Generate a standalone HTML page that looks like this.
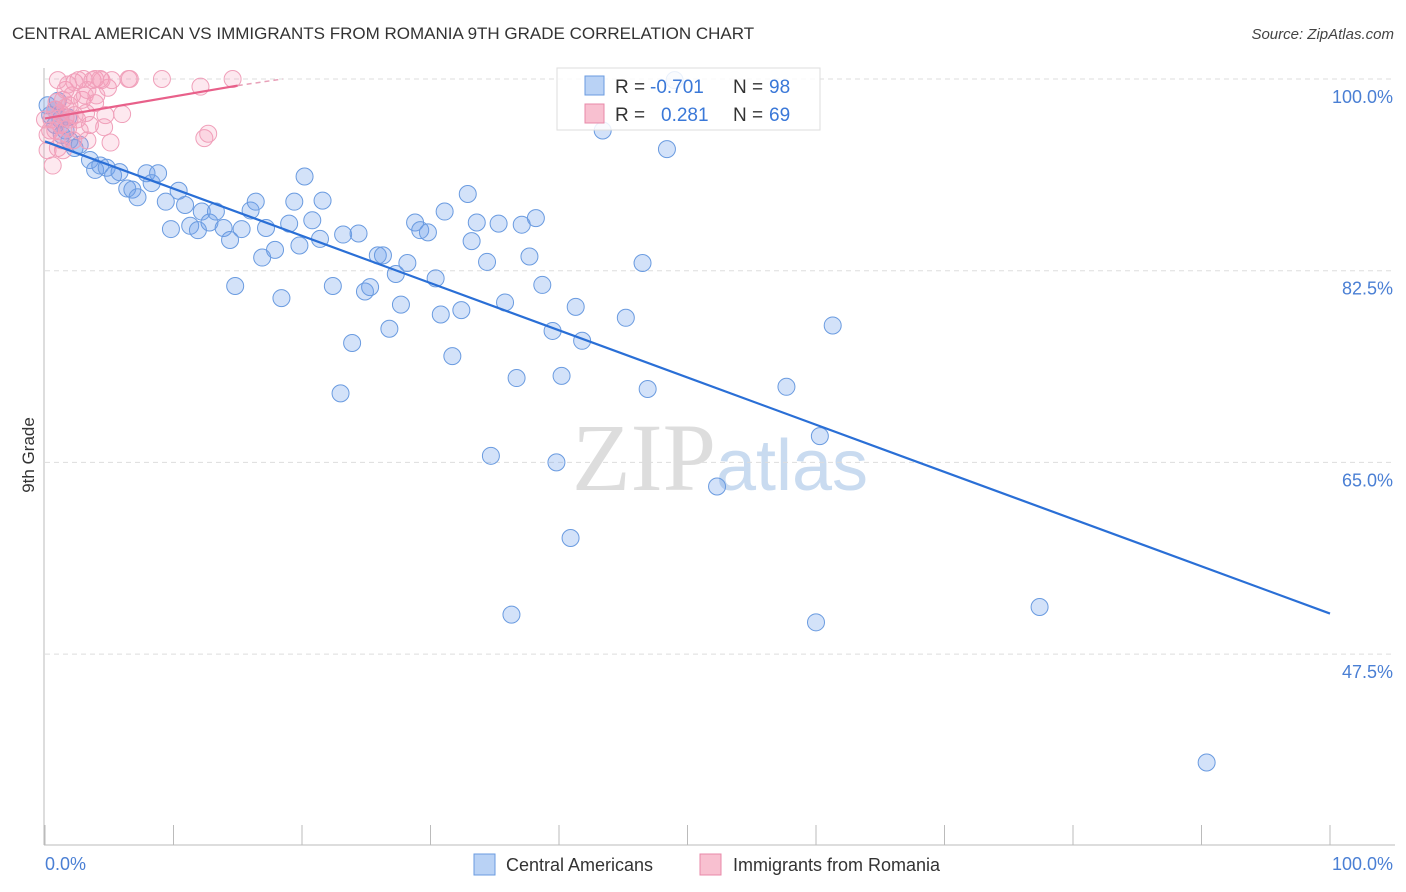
<!DOCTYPE html>
<html><head><meta charset="utf-8"><style>
body{margin:0;background:#fff;font-family:"Liberation Sans",sans-serif}
svg{display:block}
</style></head><body>
<svg id="chart" width="1406" height="892" xmlns="http://www.w3.org/2000/svg" font-family="Liberation Sans, sans-serif">
<text x="12" y="39" font-size="17" fill="#333">CENTRAL AMERICAN VS IMMIGRANTS FROM ROMANIA 9TH GRADE CORRELATION CHART</text>
<text x="1394" y="39" font-size="15" fill="#444" text-anchor="end" font-style="italic">Source: ZipAtlas.com</text>
<text x="720" y="490" font-size="96" fill="#ddd" text-anchor="middle" font-family="Liberation Serif, serif">ZIP<tspan fill="#c9dbf0" font-family="Liberation Sans, sans-serif" font-size="72">atlas</tspan></text>
<g id="grid"></g><g id="axes"></g><g id="pts"></g><g id="lines"></g>
<text transform="translate(34,455) rotate(-90)" font-size="17" fill="#333" text-anchor="middle">9th Grade</text>
<text x="45" y="870" font-size="18" fill="#4a7fd4">0.0%</text>
<text x="1393" y="870" font-size="18" fill="#4a7fd4" text-anchor="end">100.0%</text>
<g>
<rect x="557" y="68" width="263" height="62" fill="rgba(255,255,255,0.85)" stroke="#ddd"/>
<rect x="585" y="76" width="19" height="19" fill="#b9d2f5" stroke="#6a9be0"/>
<rect x="585" y="104" width="19" height="19" fill="#f8c0d0" stroke="#e888a8"/>
<text x="615" y="93" font-size="19" fill="#333">R =</text>
<text x="650" y="93" font-size="19" fill="#3a78d8">-0.701</text>
<text x="733" y="93" font-size="19" fill="#333">N =</text>
<text x="769" y="93" font-size="19" fill="#3a78d8">98</text>
<text x="615" y="121" font-size="19" fill="#333">R =</text>
<text x="661" y="121" font-size="19" fill="#3a78d8">0.281</text>
<text x="733" y="121" font-size="19" fill="#333">N =</text>
<text x="769" y="121" font-size="19" fill="#3a78d8">69</text>
</g>
<g>
<rect x="474" y="854" width="21" height="21" fill="#b9d2f5" stroke="#6a9be0"/>
<text x="506" y="871" font-size="18" fill="#333">Central Americans</text>
<rect x="700" y="854" width="21" height="21" fill="#f8c0d0" stroke="#e888a8"/>
<text x="733" y="871" font-size="18" fill="#333">Immigrants from Romania</text>
</g>
</svg>
<script>
const yTicks=[100,82.5,65,47.5];
const yTickLabels=["100.0%","82.5%","65.0%","47.5%"];
const xTicks=[0,10,20,30,40,50,60,70,80,90,100];
const blueX=[0.2,0.8,1.2,1.6,1.9,2.3,2.7,3.5,3.9,4.3,4.8,5.3,5.8,6.4,6.8,7.2,7.9,8.3,8.8,9.4,9.8,10.4,10.9,11.3,11.9,12.2,12.8,13.3,13.9,14.4,14.8,15.3,16.0,16.4,16.9,17.2,17.9,18.4,19.0,19.4,19.8,20.2,20.8,21.4,21.6,22.4,23.2,23.0,23.9,24.4,24.9,25.3,25.9,26.3,26.8,27.3,27.7,28.2,28.8,29.2,29.8,30.4,30.8,31.1,31.7,32.4,32.9,33.2,33.6,34.4,34.7,35.3,35.8,36.3,36.7,37.1,37.7,38.2,38.7,39.5,39.8,40.2,40.9,41.3,41.8,43.4,45.2,46.5,46.9,48.4,49.0,52.3,57.7,60.0,60.3,61.3,77.4,90.4,0.4,0.8,1.3,1.0,1.8];
const blueY=[97.6,97.2,96.3,95.3,94.4,93.7,94.0,92.6,91.7,92.1,91.9,91.2,91.5,90.0,89.9,89.2,91.4,90.5,91.4,88.8,86.3,89.8,88.5,86.6,86.2,87.9,86.9,87.9,86.4,85.3,81.1,86.3,88.0,88.8,83.7,86.4,84.4,80.0,86.8,88.8,84.8,91.1,87.1,85.4,88.9,81.1,85.8,71.3,75.9,85.9,80.6,81.0,83.9,83.9,77.2,82.2,79.4,83.2,86.9,86.2,86.0,81.8,78.5,87.9,74.7,78.9,89.5,85.2,86.9,83.3,65.6,86.8,79.6,51.1,72.7,86.7,83.8,87.3,81.2,77.0,65.0,72.9,58.1,79.2,76.1,95.3,78.2,83.2,71.7,93.6,99.9,62.8,71.9,50.4,67.4,77.5,51.8,37.6,96.7,95.8,94.9,98.0,96.5];
const pinkX=[0.2,0.4,0.5,0.8,0.9,1.2,1.3,1.4,1.6,1.6,1.8,1.9,2.1,2.2,2.3,2.5,2.6,2.7,2.9,3.0,3.2,3.3,3.5,3.7,3.9,4.0,4.3,4.4,4.6,4.7,4.9,5.1,5.2,6.0,6.5,6.6,9.1,12.1,12.4,12.7,14.6,0.6,1.0,0.2,0,0.8,1.2,1.6,1.9,2.3,1.0,1.8,3.1,3.9,3.3,1.4];
const pinkY=[93.5,95.3,96.3,97.2,97.9,95.8,94.4,98.1,99.0,96.5,95.5,97.6,98.5,94.4,99.7,96.3,99.9,95.3,98.1,100,96.9,99.0,95.8,99.9,100,98.5,100,99.9,95.6,96.7,99.2,94.2,99.9,96.8,100,100,100,99.3,94.6,95.0,100,92.1,93.7,94.9,96.3,95.3,96.9,97.4,96.3,96.7,99.9,99.5,98.5,97.8,94.4,93.5];
const blueTrend=[[0,94.3],[100,51.2]];
const pinkTrend=[[0,96.4],[15,99.4]];
const pinkDash=[[15,99.4],[18.5,100]];
const NS="http://www.w3.org/2000/svg";
const xs=v=>45+v*12.85;
const ys=v=>79+(100-v)*10.954;
function mk(tag,attrs,parent){const e=document.createElementNS(NS,tag);for(const k in attrs)e.setAttribute(k,attrs[k]);const p=document.getElementById(parent);p.appendChild(e);return e;}
yTicks.forEach((t,i)=>{
 const l=mk('line',{x1:45,x2:1395,y1:ys(t),y2:ys(t),stroke:'#ddd','stroke-dasharray':'5,4'},'grid');
 
 
 const tx=mk('text',{x:1393,y:ys(t)+24,'font-size':18,fill:'#4a7fd4','text-anchor':'end'},'grid');
 tx.textContent=yTickLabels[i];
 
 
});
const ax=mk('line',{x1:44,x2:44,y1:68,y2:845,stroke:'#bbb'},'axes');


const bx=mk('line',{x1:44,x2:1395,y1:845,y2:845,stroke:'#bbb'},'axes');


xTicks.forEach(t=>{
 const l=mk('line',{x1:xs(t),x2:xs(t),y1:825,y2:845,stroke:'#bbb'},'axes');
 
 
});
blueX.forEach((x,i)=>{
 const c=mk('circle',{cx:xs(x),cy:ys(blueY[i]),r:8.5,fill:'rgba(110,160,235,0.3)',stroke:'#6a9be0','stroke-width':1},'pts');
 
 
});
pinkX.forEach((x,i)=>{
 const c=mk('circle',{cx:xs(x),cy:ys(pinkY[i]),r:8.5,fill:'rgba(245,150,180,0.22)',stroke:'#f0a0ba','stroke-width':1},'pts');
 
 
});
const bl=mk('line',{x1:xs(blueTrend[0][0]),y1:ys(blueTrend[0][1]),x2:xs(blueTrend[1][0]),y2:ys(blueTrend[1][1]),stroke:'#2a6fd6','stroke-width':2.2},'lines');


const pl=mk('line',{x1:xs(pinkTrend[0][0]),y1:ys(pinkTrend[0][1]),x2:xs(pinkTrend[1][0]),y2:ys(pinkTrend[1][1]),stroke:'#e8608a','stroke-width':2.2},'lines');


const pd=mk('line',{x1:xs(pinkDash[0][0]),y1:ys(pinkDash[0][1]),x2:xs(pinkDash[1][0]),y2:ys(pinkDash[1][1]),stroke:'#e8a0b8','stroke-width':1.5,'stroke-dasharray':'5,4'},'lines');


</script>
</body></html>
